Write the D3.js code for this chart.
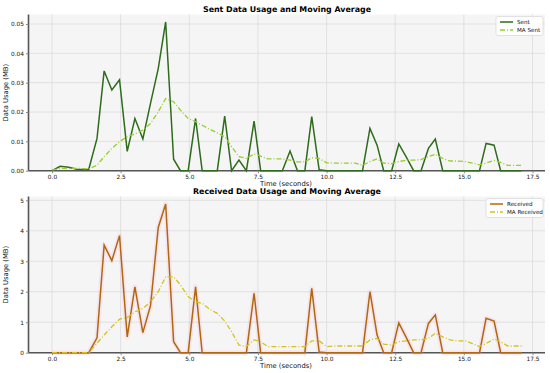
<!DOCTYPE html>
<html><head><meta charset="utf-8">
<script src="https://cdn.jsdelivr.net/npm/d3@7"></script>
<style>
body{margin:0;background:#fff;}
svg{display:block;font-family:"DejaVu Sans",sans-serif;}
</style></head>
<body><svg id="c" width="550" height="373"></svg>
<script>
const times = [0.00,0.30,0.61,0.91,1.13,1.34,1.64,1.90,2.18,2.46,2.74,3.02,3.31,3.59,3.87,4.14,4.43,4.68,4.96,5.23,5.47,5.75,6.02,6.29,6.54,6.81,7.08,7.36,7.60,7.87,8.13,8.39,8.67,8.94,9.21,9.46,9.73,10.00,10.27,10.55,10.82,11.06,11.31,11.58,11.84,12.08,12.37,12.63,12.90,13.17,13.44,13.71,13.96,14.23,14.50,14.78,15.05,15.31,15.57,15.81,16.10,16.34,16.60,16.85,17.10];
const sent = [0,0.0015,0.0012,0.0005,0.0004,0.0005,0.011,0.034,0.0275,0.031,0.0066,0.0178,0.0108,0.023,0.0348,0.0507,0.0039,0,0,0.0178,0,0,0,0.0186,0,0.0036,0,0.0169,0,0,0,0,0.0067,0,0,0.0184,0.0003,0,0,0,0,0,0,0.0144,0.0087,0,0,0.0091,0.0047,0,0,0.0076,0.0108,0,0,0,0,0,0,0.0093,0.0087,0,0,0,0];
const maSent = [0.0003,0.0007,0.0008,0.0008,0.0007,0.0006,0.0019,0.0048,0.0076,0.0099,0.0116,0.0125,0.0138,0.0161,0.0201,0.0246,0.0235,0.0206,0.0178,0.0167,0.0155,0.0141,0.0129,0.0116,0.0082,0.0048,0.0042,0.0057,0.005,0.004,0.004,0.004,0.0036,0.003,0.003,0.0044,0.0042,0.0027,0.0026,0.0026,0.0026,0.0026,0.0018,0.0031,0.004,0.0026,0.0024,0.0031,0.0036,0.0036,0.0038,0.0048,0.0056,0.0042,0.0033,0.0033,0.0031,0.0026,0.002,0.0026,0.0035,0.0028,0.0018,0.0018,0.0018];
const received = [0,0,0,0,0,0,0.49,3.53,3.02,3.84,0.52,2.16,0.66,1.55,4.11,4.88,0.36,0,0,2.16,0,0,0,0,0,0,0,1.95,0,0,0,0,0,0,0,2.11,0.02,0,0,0,0,0,0,2.0,0.58,0,0,0.98,0.5,0,0,0.96,1.24,0,0,0,0,0,0,1.13,1.04,0,0,0,0];
const maReceived = [0,0,0,0,0,0,0.31,0.58,0.85,1.1,1.15,1.34,1.45,1.67,2.0,2.49,2.49,2.22,1.84,1.67,1.62,1.42,1.29,1.04,0.69,0.25,0.2,0.42,0.36,0.2,0.2,0.2,0.2,0.2,0.2,0.39,0.39,0.2,0.22,0.22,0.22,0.22,0.22,0.42,0.47,0.28,0.25,0.36,0.39,0.42,0.42,0.47,0.64,0.52,0.42,0.39,0.39,0.3,0.2,0.3,0.45,0.36,0.22,0.22,0.22];
const xTicks = [0,2.5,5,7.5,10,12.5,15,17.5];
const sentTicks = [0,0.01,0.02,0.03,0.04,0.05];
const recvTicks = [0,1,2,3,4,5];

const svg = d3.select("#c");
const xmax = d3.max(times), xpad = xmax*0.05;

function panel(cfg){
  const g = svg.append("g");
  const x = d3.scaleLinear().domain([-xpad, xmax+xpad]).range([28.5,545]);
  const ymax = d3.max(cfg.values)*1.05;
  const y = d3.scaleLinear().domain([0,ymax]).range([cfg.bottom,cfg.top]);
  g.append("rect").attr("x",28.5).attr("y",cfg.top).attr("width",545-28.5).attr("height",cfg.bottom-cfg.top).attr("fill","#f5f5f5");
  g.selectAll(".gx").data(xTicks).enter().append("line")
    .attr("x1",d=>x(d)).attr("x2",d=>x(d)).attr("y1",cfg.top).attr("y2",cfg.bottom)
    .attr("stroke","#dcdcdc").attr("stroke-width",0.8);
  g.selectAll(".gy").data(cfg.ticks).enter().append("line")
    .attr("x1",28.5).attr("x2",545).attr("y1",d=>y(d)).attr("y2",d=>y(d))
    .attr("stroke","#dcdcdc").attr("stroke-width",0.8);
  const xa = g.append("g").attr("transform",`translate(0,${cfg.bottom})`)
    .call(d3.axisBottom(x).tickValues(xTicks).tickFormat(d3.format(".1f")).tickSize(2.5).tickPadding(2));
  const ya = g.append("g").attr("transform",`translate(28.5,0)`)
    .call(d3.axisLeft(y).tickValues(cfg.ticks).tickFormat(cfg.fmt).tickSize(2.5).tickPadding(2));
  [xa,ya].forEach(a=>{
    a.select(".domain").attr("stroke","#555").attr("stroke-width",1.6);
    a.selectAll(".tick line").attr("stroke","#888");
    a.selectAll("text").attr("font-size",5.8).attr("fill","#111").attr("font-family","DejaVu Sans");
  });
  xa.select(".domain").attr("d",`M28.5,0H545`);
  ya.select(".domain").attr("d",`M0,${cfg.top}V${cfg.bottom}`);
  const line = d3.line().x((d,i)=>x(times[i])).y(d=>y(d));
  if(cfg.glow){
    g.append("path").datum(cfg.values).attr("d",line).attr("fill","none")
      .attr("stroke",cfg.glow).attr("stroke-width",5).attr("stroke-opacity",0.18).attr("stroke-linejoin","round");
  }
  g.append("path").datum(cfg.values).attr("d",line).attr("fill","none")
    .attr("stroke",cfg.color).attr("stroke-width",1.5).attr("stroke-linejoin","miter");
  g.append("path").datum(cfg.ma).attr("d",line).attr("fill","none")
    .attr("stroke",cfg.maColor).attr("stroke-width",1.3).attr("stroke-dasharray","5,2,1,2");
  g.append("text").attr("x",287).attr("y",cfg.titleY).attr("text-anchor","middle")
    .attr("font-size",7.9).attr("font-weight","bold").attr("fill","#000").text(cfg.title);
  g.append("text").attr("x",286).attr("y",cfg.bottom+15).attr("text-anchor","middle")
    .attr("font-size",6.8).attr("fill","#111").text("Time (seconds)");
  g.append("text").attr("transform",`translate(7.5,${(cfg.top+cfg.bottom)/2}) rotate(-90)`)
    .attr("text-anchor","middle").attr("font-size",6.8).attr("fill","#111").text("Data Usage (MB)");
  const lw = cfg.legW, lx = 543-lw, ly = cfg.top+2;
  const lg = g.append("g");
  lg.append("rect").attr("x",lx).attr("y",ly).attr("width",lw).attr("height",19).attr("rx",2)
    .attr("fill","#fff").attr("fill-opacity",0.85).attr("stroke","#d0d0d0").attr("stroke-width",0.6);
  const items=[{l:cfg.labels[0],c:cfg.color,d:null,w:1.5},{l:cfg.labels[1],c:cfg.maColor,d:"5,2,1,2",w:1.3}];
  items.forEach((it,i)=>{
    const yy = ly+5.5+i*8;
    lg.append("line").attr("x1",lx+4).attr("x2",lx+17).attr("y1",yy).attr("y2",yy)
      .attr("stroke",it.c).attr("stroke-width",it.w).attr("stroke-dasharray",it.d);
    lg.append("text").attr("x",lx+21).attr("y",yy+2.2).attr("font-size",5.6).attr("fill","#111").text(it.l);
  });
}

panel({values:sent, ma:maSent, top:14.5, bottom:170.7, titleY:11.5, ticks:sentTicks, fmt:d3.format(".2f"),
  color:"#2f6b1c", maColor:"#9acd32", title:"Sent Data Usage and Moving Average", labels:["Sent","MA Sent"], legW:47});
panel({values:received, ma:maReceived, top:196.5, bottom:352.7, titleY:193.5, ticks:recvTicks, fmt:d3.format("d"),
  color:"#b0680f", maColor:"#d4c21e", glow:"#ff9fd6", title:"Received Data Usage and Moving Average", labels:["Received","MA Received"], legW:57});
</script></body></html>
